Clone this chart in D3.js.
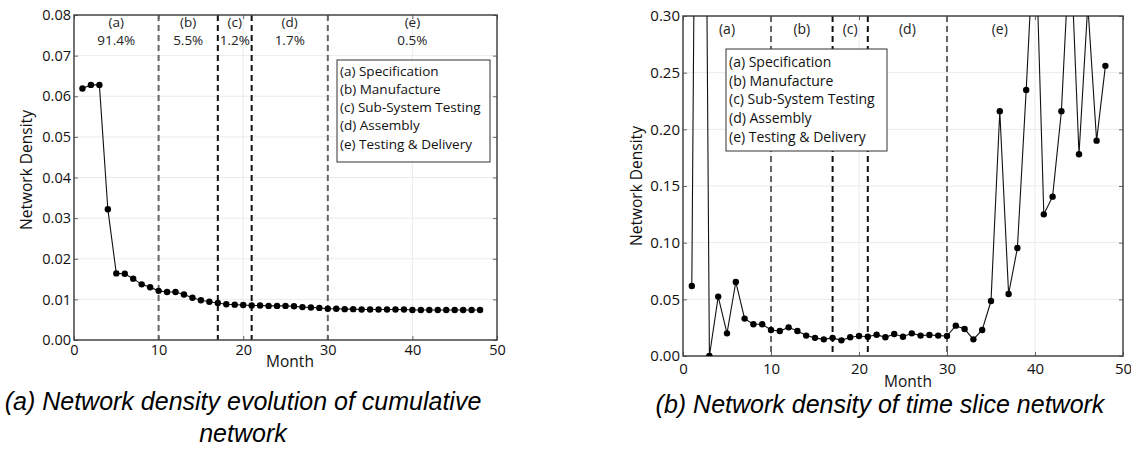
<!DOCTYPE html>
<html>
<head>
<meta charset="utf-8">
<script src="https://cdn.jsdelivr.net/npm/d3@7"></script>
<style>
  body { margin: 0; background: #fff; }
  svg { display: block; }
</style>
</head>
<body>
<div id="vis"></div>
<script>
// Months on the x axis
const MONTHS = [1, 2, 3, 4, 5, 6, 7, 8, 9, 10, 11, 12, 13, 14, 15, 16, 17, 18, 19, 20, 21, 22, 23, 24,
                25, 26, 27, 28, 29, 30, 31, 32, 33, 34, 35, 36, 37, 38, 39, 40, 41, 42, 43, 44, 45, 46, 47, 48];

// (a) density of the cumulative network
const CUMULATIVE_DENSITY = [0.0619, 0.0628, 0.0628, 0.0322, 0.0164, 0.0163, 0.0151, 0.0137, 0.0130, 0.0121,
                            0.0118, 0.0118, 0.0112, 0.0104, 0.0098, 0.0094, 0.0091, 0.0088, 0.0087, 0.0086,
                            0.0085, 0.0085, 0.0084, 0.0084, 0.0084, 0.0083, 0.0081, 0.0080, 0.0079, 0.0077,
                            0.0077, 0.0076, 0.0076, 0.0075, 0.0075, 0.0075, 0.0075, 0.0075, 0.0075, 0.0074,
                            0.0074, 0.0074, 0.0074, 0.0074, 0.0074, 0.0074, 0.0074, 0.0074];

// (b) density of each time slice network
const SLICE_DENSITY = [0.0618, 1.1000, 0.0000, 0.0524, 0.0200, 0.0653, 0.0330, 0.0280, 0.0280, 0.0230,
                       0.0220, 0.0253, 0.0220, 0.0180, 0.0160, 0.0147, 0.0160, 0.0138, 0.0165, 0.0176,
                       0.0170, 0.0188, 0.0165, 0.0194, 0.0170, 0.0200, 0.0180, 0.0185, 0.0180, 0.0176,
                       0.0268, 0.0238, 0.0147, 0.0230, 0.0485, 0.2160, 0.0547, 0.0953, 0.2347, 0.3900,
                       0.1250, 0.1406, 0.2160, 0.3700, 0.1780, 0.3100, 0.1900, 0.2560];

// Axis ticks
const X_TICKS = [0, 10, 20, 30, 40, 50];
const Y_TICKS_CUM = [0, 0.01, 0.02, 0.03, 0.04, 0.05, 0.06, 0.07, 0.08];
const Y_TICKS_SLICE = [0, 0.05, 0.10, 0.15, 0.20, 0.25, 0.30];

// Project phases
const PHASE_BOUNDS = [10, 17, 21, 30];
const PHASE_LETTERS = ["(a)", "(b)", "(c)", "(d)", "(e)"];
const PHASE_SHARES = ["91.4%", "5.5%", "1.2%", "1.7%", "0.5%"];
const PHASE_LABEL_X_CUM = [5, 13.5, 19, 25.5, 40];
const PHASE_LABEL_X_SLICE = [5, 13.5, 19, 25.5, 36];
const LEGEND_LABELS = ["(a) Specification", "(b) Manufacture", "(c) Sub-System Testing",
                       "(d) Assembly", "(e) Testing & Delivery"];

const FRAME_WIDTH = 1131;
const FRAME_HEIGHT = 449;
const FONT = "'Open Sans', 'DejaVu Sans', sans-serif";

const FRAME = d3.select("#vis")
                .append("svg")
                  .attr("width", FRAME_WIDTH)
                  .attr("height", FRAME_HEIGHT);

FRAME.append("rect")
  .attr("width", FRAME_WIDTH)
  .attr("height", FRAME_HEIGHT)
  .attr("fill", "#fff");

// Draws one panel
function drawPanel(p) {
  const X_SCALE = d3.scaleLinear().domain([0, 50]).range([0, p.width]);
  const Y_SCALE = d3.scaleLinear().domain([0, p.yMax]).range([p.height, 0]);

  const g = FRAME.append("g")
    .attr("transform", "translate(" + p.left + "," + p.top + ")");

  // light grid
  g.append("g").selectAll("line")
    .data(X_TICKS.slice(1, -1))
    .enter().append("line")
      .attr("x1", d => X_SCALE(d)).attr("x2", d => X_SCALE(d))
      .attr("y1", 0).attr("y2", p.height)
      .attr("stroke", "#ebebeb").attr("stroke-width", 1);
  g.append("g").selectAll("line")
    .data(p.yTicks.slice(1, -1))
    .enter().append("line")
      .attr("x1", 0).attr("x2", p.width)
      .attr("y1", d => Y_SCALE(d)).attr("y2", d => Y_SCALE(d))
      .attr("stroke", "#ebebeb").attr("stroke-width", 1);

  // phase boundaries
  g.append("g").selectAll("line")
    .data(PHASE_BOUNDS)
    .enter().append("line")
      .attr("x1", d => X_SCALE(d)).attr("x2", d => X_SCALE(d))
      .attr("y1", 0).attr("y2", p.height)
      .attr("stroke", (d, i) => (i === 1 || i === 2) ? "#111" : "#666")
      .attr("stroke-width", 2)
      .attr("stroke-dasharray", "6,4");

  // axes with inward ticks
  const yAxis = g.append("g")
    .call(d3.axisLeft(Y_SCALE).tickValues(p.yTicks).tickFormat(d3.format(".2f"))
            .tickSizeInner(-4).tickSizeOuter(0).tickPadding(3));
  const xAxis = g.append("g")
    .attr("transform", "translate(0," + p.height + ")")
    .call(d3.axisBottom(X_SCALE).tickValues(X_TICKS).tickFormat(d3.format("d"))
            .tickSizeInner(-4).tickSizeOuter(0).tickPadding(p.xPad));
  g.append("g")
    .attr("transform", "translate(" + p.width + ",0)")
    .call(d3.axisRight(Y_SCALE).tickValues(p.yTicks).tickFormat("")
            .tickSizeInner(-4).tickSizeOuter(0));
  g.append("g")
    .call(d3.axisTop(X_SCALE).tickValues(X_TICKS).tickFormat("")
            .tickSizeInner(-4).tickSizeOuter(0));
  g.selectAll(".domain").remove();
  g.selectAll(".tick line").attr("stroke", "#666");
  [yAxis, xAxis].forEach(a => a.selectAll("text")
    .attr("font-family", FONT).attr("font-size", p.tickFont).attr("fill", "#111"));

  // frame
  g.append("rect")
    .attr("width", p.width).attr("height", p.height)
    .attr("fill", "none").attr("stroke", "#444").attr("stroke-width", 1.5);

  // series, clipped to the plot box
  FRAME.append("clipPath").attr("id", p.id + "-clip")
    .append("rect").attr("width", p.width).attr("height", p.height);
  const data = MONTHS.map((m, i) => ({month: m, value: p.values[i]}));
  const series = g.append("g").attr("clip-path", "url(#" + p.id + "-clip)");
  series.append("path")
    .datum(data)
    .attr("fill", "none").attr("stroke", "#111").attr("stroke-width", 1.1)
    .attr("d", d3.line().x(d => X_SCALE(d.month)).y(d => Y_SCALE(d.value)));
  series.selectAll("circle")
    .data(data)
    .enter().append("circle")
      .attr("cx", d => X_SCALE(d.month))
      .attr("cy", d => Y_SCALE(d.value))
      .attr("r", 3.2)
      .attr("fill", "#000");

  // phase labels
  g.append("g").selectAll("text")
    .data(PHASE_LETTERS)
    .enter().append("text")
      .attr("x", (d, i) => X_SCALE(p.phaseX[i]))
      .attr("y", p.letterY)
      .attr("dy", "0.35em")
      .attr("text-anchor", "middle")
      .attr("font-family", FONT).attr("font-size", p.phaseFont).attr("fill", "#222")
      .text(d => d);
  if (p.shares) {
    g.append("g").selectAll("text")
      .data(p.shares)
      .enter().append("text")
        .attr("x", (d, i) => X_SCALE(p.phaseX[i]))
        .attr("y", p.shareY)
        .attr("dy", "0.35em")
        .attr("text-anchor", "middle")
        .attr("font-family", FONT).attr("font-size", p.phaseFont).attr("fill", "#222")
        .text(d => d);
  }

  // legend box
  const lg = FRAME.append("g");
  lg.append("rect")
    .attr("x", p.legend.x).attr("y", p.legend.y)
    .attr("width", p.legend.w).attr("height", p.legend.h)
    .attr("fill", "#fff").attr("stroke", "#333").attr("stroke-width", 1);
  lg.selectAll("text")
    .data(LEGEND_LABELS)
    .enter().append("text")
      .attr("x", p.legend.x + 3)
      .attr("y", (d, i) => p.legend.first + i * p.legend.step)
      .attr("dy", "0.35em")
      .attr("font-family", FONT).attr("font-size", p.legend.font).attr("fill", "#111")
      .text(d => d);

  // axis titles
  FRAME.append("text")
    .attr("transform", "translate(" + p.yLabelX + "," + p.yLabelY + ") rotate(-90)")
    .attr("text-anchor", "middle").attr("dy", "0.35em")
    .attr("font-family", FONT).attr("font-size", p.labelFont).attr("fill", "#111")
    .text("Network Density");
  FRAME.append("text")
    .attr("x", p.monthX).attr("y", p.monthY)
    .attr("text-anchor", "middle")
    .attr("font-family", FONT).attr("font-size", p.labelFont).attr("fill", "#111")
    .text("Month");
}

drawPanel({
  id: "cum", left: 74, top: 15, width: 423, height: 325,
  yMax: 0.08, yTicks: Y_TICKS_CUM, values: CUMULATIVE_DENSITY,
  tickFont: 14.5, xPad: 5, labelFont: 15.5, phaseFont: 13.5,
  phaseX: PHASE_LABEL_X_CUM, shares: PHASE_SHARES, letterY: 7, shareY: 25,
  legend: {x: 337, y: 60, w: 153, h: 102, first: 71, step: 18.2, font: 13.5},
  yLabelX: 27, yLabelY: 170, monthX: 290, monthY: 367
});

drawPanel({
  id: "slice", left: 683, top: 16, width: 440, height: 340,
  yMax: 0.30, yTicks: Y_TICKS_SLICE, values: SLICE_DENSITY,
  tickFont: 15, xPad: 7, labelFont: 15.5, phaseFont: 14,
  phaseX: PHASE_LABEL_X_SLICE, shares: null, letterY: 13,
  legend: {x: 726, y: 49, w: 161, h: 102, first: 62, step: 18.75, font: 14},
  yLabelX: 637, yLabelY: 186, monthX: 908, monthY: 387
});

// Captions
const CAPTION_FONT = "'Liberation Sans', Arial, sans-serif";
[["(a) Network density evolution of cumulative", 243, 410],
 ["network", 243, 442],
 ["(b) Network density of time slice network", 880, 413]].forEach(c => {
  FRAME.append("text")
    .attr("x", c[1]).attr("y", c[2])
    .attr("text-anchor", "middle")
    .attr("font-family", CAPTION_FONT).attr("font-style", "italic")
    .attr("font-size", 25).attr("fill", "#000")
    .text(c[0]);
});
</script>
</body>
</html>
